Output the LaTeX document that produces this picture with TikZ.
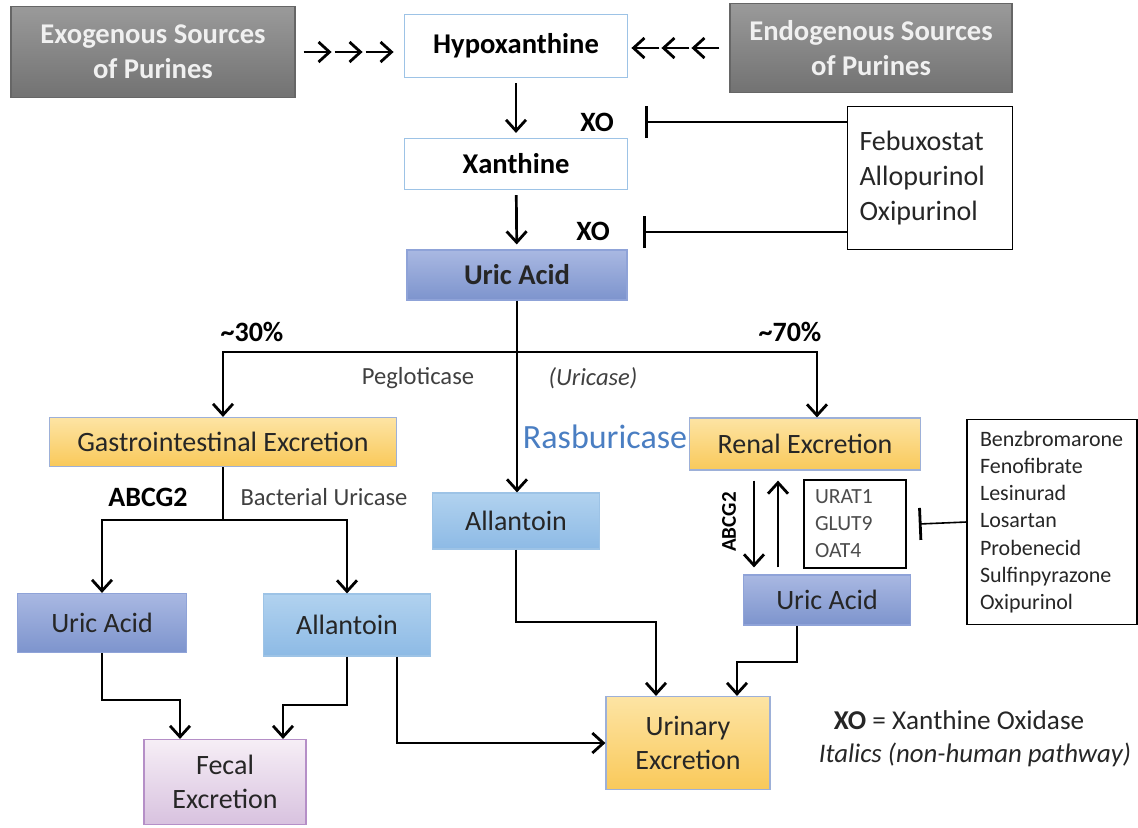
\documentclass[tikz,border=0pt]{standalone}
\usepackage{fontspec}
\setmainfont{Carlito}
\usetikzlibrary{arrows.meta}

\definecolor{srctop}{HTML}{9A9A9A}
\definecolor{srcbot}{HTML}{727272}
\definecolor{hxblue}{HTML}{9DC3E6}
\definecolor{uatop}{HTML}{A9B8E2}
\definecolor{uabot}{HTML}{7D94CD}
\definecolor{uaedge}{HTML}{8FA3D8}
\definecolor{exctop}{HTML}{FDE4A4}
\definecolor{excbot}{HTML}{F9C95A}
\definecolor{excedge}{HTML}{9DB0D8}
\definecolor{alltop}{HTML}{B1D2EF}
\definecolor{allbot}{HTML}{8DBAE5}
\definecolor{fectop}{HTML}{F6EEF6}
\definecolor{fecbot}{HTML}{D8C2DF}
\definecolor{fecedge}{HTML}{B58FC7}
\definecolor{rasblue}{HTML}{4A7EC2}
\definecolor{labelgray}{HTML}{404040}

\tikzset{
  flow/.style={line width=1.35pt, -{Straight Barb[length=5.5pt,width=10pt,line width=1.4pt]}},
  inhibit/.style={line width=1.35pt, -{Bar[width=16pt,line width=1.4pt]}},
  boxbase/.style={draw, line width=0.6pt, inner sep=0pt, align=center,
    font=\fontsize{14}{17}\selectfont},
  srcbox/.style={boxbase, draw=gray!80!black, top color=srctop, bottom color=srcbot,
    text=white!94!black, font=\bfseries\fontsize{14.3}{17.5}\selectfont},
  pathbox/.style={boxbase, draw=hxblue, fill=white, font=\bfseries\fontsize{14.3}{17}\selectfont},
  uabox/.style={boxbase, draw=uaedge, top color=uatop, bottom color=uabot, text=black!85},
  excbox/.style={boxbase, draw=excedge, top color=exctop, bottom color=excbot, text=black!85},
  allbox/.style={boxbase, draw=hxblue, top color=alltop, bottom color=allbot, text=black!85},
  fecbox/.style={boxbase, draw=fecedge, top color=fectop, bottom color=fecbot, text=black!85},
  listbox/.style={draw, line width=0.8pt, align=left, inner ysep=0pt, text=black!85},
  xolabel/.style={font=\bfseries\fontsize{14}{17}\selectfont},
  enzyme/.style={text=labelgray, font=\fontsize{12.3}{15}\selectfont},
  legend/.style={text=black!85, font=\fontsize{13.6}{16}\selectfont}
}

\begin{document}
\begin{tikzpicture}[x=0.5pt,y=-0.5pt]
    \useasboundingbox (0,0) rectangle (1138,827);

    %% Sources of purines
    \node[srcbox, minimum width=142pt, minimum height=45.5pt] (exo) at (153,52) {Exogenous Sources\\of Purines};
    \node[srcbox, minimum width=141pt, minimum height=44.5pt] (endo) at (871,48) {Endogenous Sources\\of Purines};

    %% Purine breakdown
    \node[pathbox, minimum width=111.5pt, minimum height=31.5pt] (hypo) at (516,46) {Hypoxanthine};
    \node[pathbox, minimum width=111.5pt, minimum height=25.5pt] (xan) at (516,164) {Xanthine};
    \node[uabox, font=\bfseries\fontsize{14.3}{17}\selectfont, minimum width=110pt, minimum height=25pt] (ua) at (517,275) {Uric Acid};

    % Triple arrows into hypoxanthine
    \foreach \i in {0,1,2} {
        \draw[flow] ([xshift=4pt+\i*15.5pt]exo.east) -- ++(28,0);
        \draw[flow] ([xshift=-5pt-\i*15pt]endo.west) -- ++(-28,0);
    }
    \draw[flow, shorten <=2.5pt, shorten >=2.5pt] (hypo) -- (xan);
    \draw[flow, shorten <=2.5pt, shorten >=2.5pt] (xan) -- (ua);

    % XO inhibitors
    \node[xolabel] (xo1) at (597,122) {XO};
    \node[xolabel] (xo2) at (593,231) {XO};
    \node[listbox, font=\fontsize{14}{17.3}\selectfont, inner xsep=6pt, text width=70.5pt, minimum height=71.5pt] (xoi) at (930,178) {Febuxostat\\Allopurinol\\Oxipurinol};
    \coordinate (bar1) at (645,122);
    \coordinate (bar2) at (643,232);
    \draw[inhibit] (xoi.west |- bar1) -- (bar1);
    \draw[inhibit] (xoi.west |- bar2) -- (bar2);

    %% Split of uric acid excretion
    \node[excbox, minimum width=173.5pt, minimum height=24.5pt] (gi) at (223,442) {Gastrointestinal Excretion};
    \node[excbox, minimum width=115.5pt, minimum height=26pt] (renal) at (805,444) {Renal Excretion};
    \node[allbox, minimum width=83.5pt, minimum height=28pt] (alm) at (516,521) {Allantoin};

    \coordinate (split) at (517,352);
    \draw[flow] (ua.south) -- (ua.south |- alm.north);
    \draw[flow] (split) -| (gi);
    \draw[flow] (split) -| ([xshift=6pt]renal.north);

    \node[xolabel] (p30) at (252,332) {\textasciitilde30\%};
    \node[xolabel] (p70) at (790,332) {\textasciitilde70\%};
    \node[enzyme] (peg) at (418,378) {Pegloticase};
    \node[enzyme, font=\itshape\fontsize{12.3}{15}\selectfont] (uricase) at (593,378) {(Uricase)};
    \node[text=rasblue, font=\fontsize{17}{20}\selectfont] (ras) at (605,437) {Rasburicase};

    %% Gastrointestinal branch
    \node[uabox, minimum width=84.5pt, minimum height=29.5pt] (ual) at (102,623) {Uric Acid};
    \node[allbox, minimum width=83.5pt, minimum height=31pt] (all) at (347,625) {Allantoin};
    \node[fecbox, minimum width=81pt, minimum height=42.5pt] (fec) at (225,782) {Fecal\\Excretion};

    \coordinate (gisplit) at (223,520);
    \draw[line width=1.35pt] (gi) -- (gisplit);
    \draw[flow] (gisplit) -| (ual);
    \draw[flow] (gisplit) -| (all);
    \node[xolabel] (abcg) at (148,497) {ABCG2};
    \node[enzyme] (bact) at (324,497) {Bacterial Uricase};

    \draw[flow] (ual) |- (180,700) -- (fec.north -| 180,0);
    \draw[flow] (all) |- (283,705) -- (fec.north -| 283,0);

    %% Renal branch
    \node[excbox, minimum width=82pt, minimum height=46.5pt] (uri) at (688,743) {Urinary\\Excretion};
    \node[uabox, minimum width=83.5pt, minimum height=25pt] (uar) at (827,600) {Uric Acid};

    \draw[flow, shorten <=5pt, shorten >=3.5pt] (renal.south -| 754,0) -- (uar.north -| 754,0);
    \draw[flow, shorten <=3.5pt, shorten >=5pt] (uar.north -| 778,0) -- (renal.south -| 778,0);
    \node[font=\bfseries\fontsize{10.5}{12}\selectfont, rotate=90] (abcgr) at (729,522) {ABCG2};

    \node[listbox, font=\fontsize{10.8}{13.5}\selectfont, text=black!70, inner xsep=5.5pt, text width=40pt, minimum height=44pt] (urat) at (855,524) {URAT1\\GLUT9\\OAT4};
    \node[listbox, font=\fontsize{11}{13.6}\selectfont, inner xsep=6.5pt, text width=72pt, minimum height=102.5pt] (drugs) at (1052,522) {Benzbromarone\\Fenofibrate\\Lesinurad\\Losartan\\Probenecid\\Sulfinpyrazone\\Oxipurinol};
    \draw[inhibit, line width=0.8pt] (drugs.west |- 0,522) -- ([xshift=6pt]urat.east);

    % Into urinary excretion
    \draw[flow] (all.south -| 397,0) |- (uri);
    \draw[flow] (alm) |- (656,622) -- (uri.north -| 656,0);
    \draw[flow] (uar.south -| 797,0) |- (737,662) -- (uri.north -| 737,0);

    % Key
    \node[legend] (key) at (959,720) {\textbf{XO} = Xanthine Oxidase};
    \node[legend, font=\itshape\fontsize{13.4}{16}\selectfont] (keyit) at (975,755) {Italics (non-human pathway)};

\end{tikzpicture}
\end{document}
